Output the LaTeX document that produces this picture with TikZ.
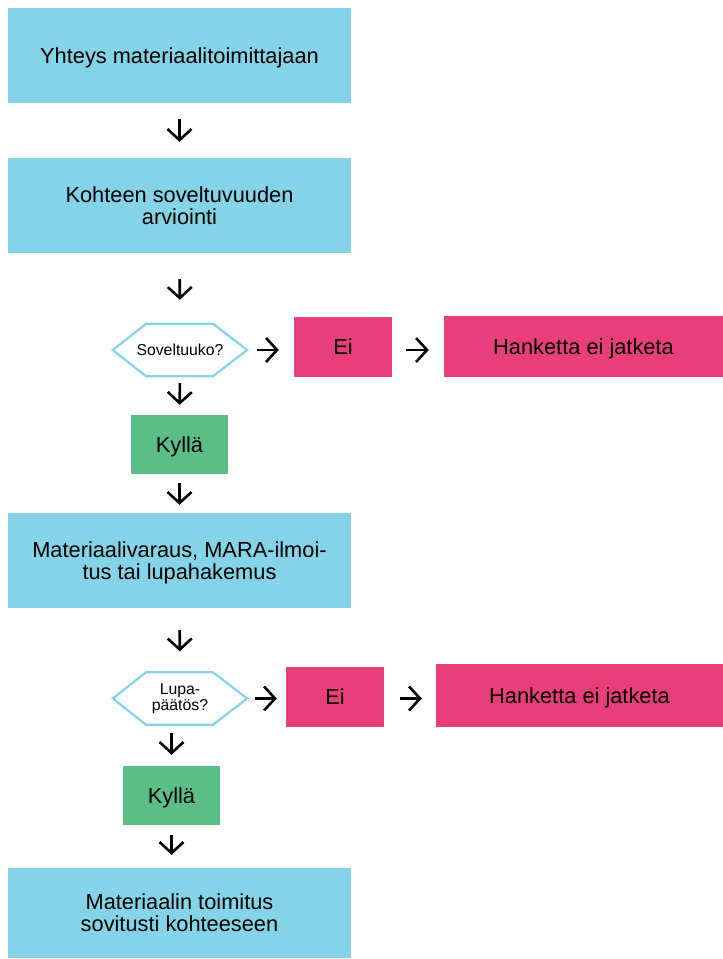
\documentclass[tikz,border=0pt]{standalone}
\usepackage{fontspec}
\setmainfont{Liberation Sans}
\usetikzlibrary{arrows.meta}
\definecolor{lblue}{HTML}{85D3E6}
\definecolor{pinkc}{HTML}{E83F7B}
\definecolor{greenc}{HTML}{5BBE86}
\tikzset{
  box/.style={rectangle, inner sep=0pt, align=center, text depth=0pt, font=\fontsize{21.8}{22}\selectfont},
  bluebox/.style={box, fill=lblue, minimum width=343pt, minimum height=95pt},
  pinkbox/.style={box, fill=pinkc},
  greenbox/.style={box, fill=greenc, minimum width=97pt, minimum height=59pt},
  hexnode/.style={rectangle, inner sep=0pt, minimum width=134pt, minimum height=52pt, align=center, font=\fontsize{15.8}{16}\selectfont},
  hexline/.style={draw=lblue, line width=2.2pt, line join=miter},
  arr/.style={draw=black, line width=2.6pt, -{Straight Barb[length=11pt,width=24pt,line width=2.6pt]}},
}
\begin{document}
\begin{tikzpicture}[x=1pt,y=-1pt]
\useasboundingbox (0,0) rectangle (723,959);
% nodes
\node[bluebox] (box1) at (179.5,55.5) {Yhteys materiaalitoimittajaan};
\node[bluebox] (box2) at (179.5,205.5) {Kohteen soveltuvuuden\\arviointi};
\node[hexnode] (hex1) at (180,350) {Soveltuuko?};
\node[pinkbox, minimum width=98pt, minimum height=60pt] (ei1) at (343,347) {Ei};
\node[pinkbox, minimum width=279pt, minimum height=61pt] (hank1) at (583.5,346.5) {Hanketta ei jatketa};
\node[greenbox] (kylla1) at (179.5,444.5) {Kyllä};
\node[bluebox] (box3) at (179.5,560.5) {Materiaalivaraus, MARA-ilmoi-\\tus tai lupahakemus};
\node[hexnode] (hex2) at (180,698.5) {Lupa-\\päätös?};
\node[pinkbox, minimum width=98pt, minimum height=60pt] (ei2) at (335,697) {Ei};
\node[pinkbox, minimum width=287pt, minimum height=63pt] (hank2) at (579.5,695.5) {Hanketta ei jatketa};
\node[greenbox] (kylla2) at (171.5,795.5) {Kyllä};
\node[bluebox, minimum height=90pt] (box4) at (179.5,913) {Materiaalin toimitus\\sovitusti kohteeseen};
% hexagon outlines
\draw[hexline] (hex1.west) -- ([xshift=-34pt]hex1.north) -- ([xshift=33pt]hex1.north) -- (hex1.east) -- ([xshift=33pt]hex1.south) -- ([xshift=-34pt]hex1.south) -- cycle;
\draw[hexline] (hex2.west) -- ([xshift=-34pt]hex2.north) -- ([xshift=33pt]hex2.north) -- (hex2.east) -- ([xshift=33pt]hex2.south) -- ([xshift=-34pt]hex2.south) -- cycle;
% arrows
\draw[arr, shorten <=16pt, shorten >=16pt] (box1.south) -- (box2.north);
\draw[arr, shorten <=26pt, shorten >=24pt] (box2.south) -- (hex1.north);
\draw[arr, shorten <=10pt, shorten >=15pt] (hex1.east) -- (ei1.west |- hex1.east);
\draw[arr, shorten <=14pt, shorten >=15pt] (ei1.east |- hex1.east) -- (hank1.west |- hex1.east);
\draw[arr, shorten <=7pt, shorten >=10pt] (hex1.south) -- (kylla1.north);
\draw[arr, shorten <=9pt, shorten >=8pt] (kylla1.south) -- (box3.north);
\draw[arr, shorten <=22pt, shorten >=21pt] (box3.south) -- (hex2.north);
\draw[arr, shorten <=8pt, shorten >=9pt] (hex2.east) -- (ei2.west |- hex2.east);
\draw[arr, shorten <=16pt, shorten >=14pt] (ei2.east |- hex2.east) -- (hank2.west |- hex2.east);
\draw[arr, shorten <=8pt, shorten >=11pt] (kylla2.north |- hex2.south) -- (kylla2.north);
\draw[arr, shorten <=10pt, shorten >=13pt] (kylla2.south) -- (box4.north -| kylla2.south);
\end{tikzpicture}
\end{document}
